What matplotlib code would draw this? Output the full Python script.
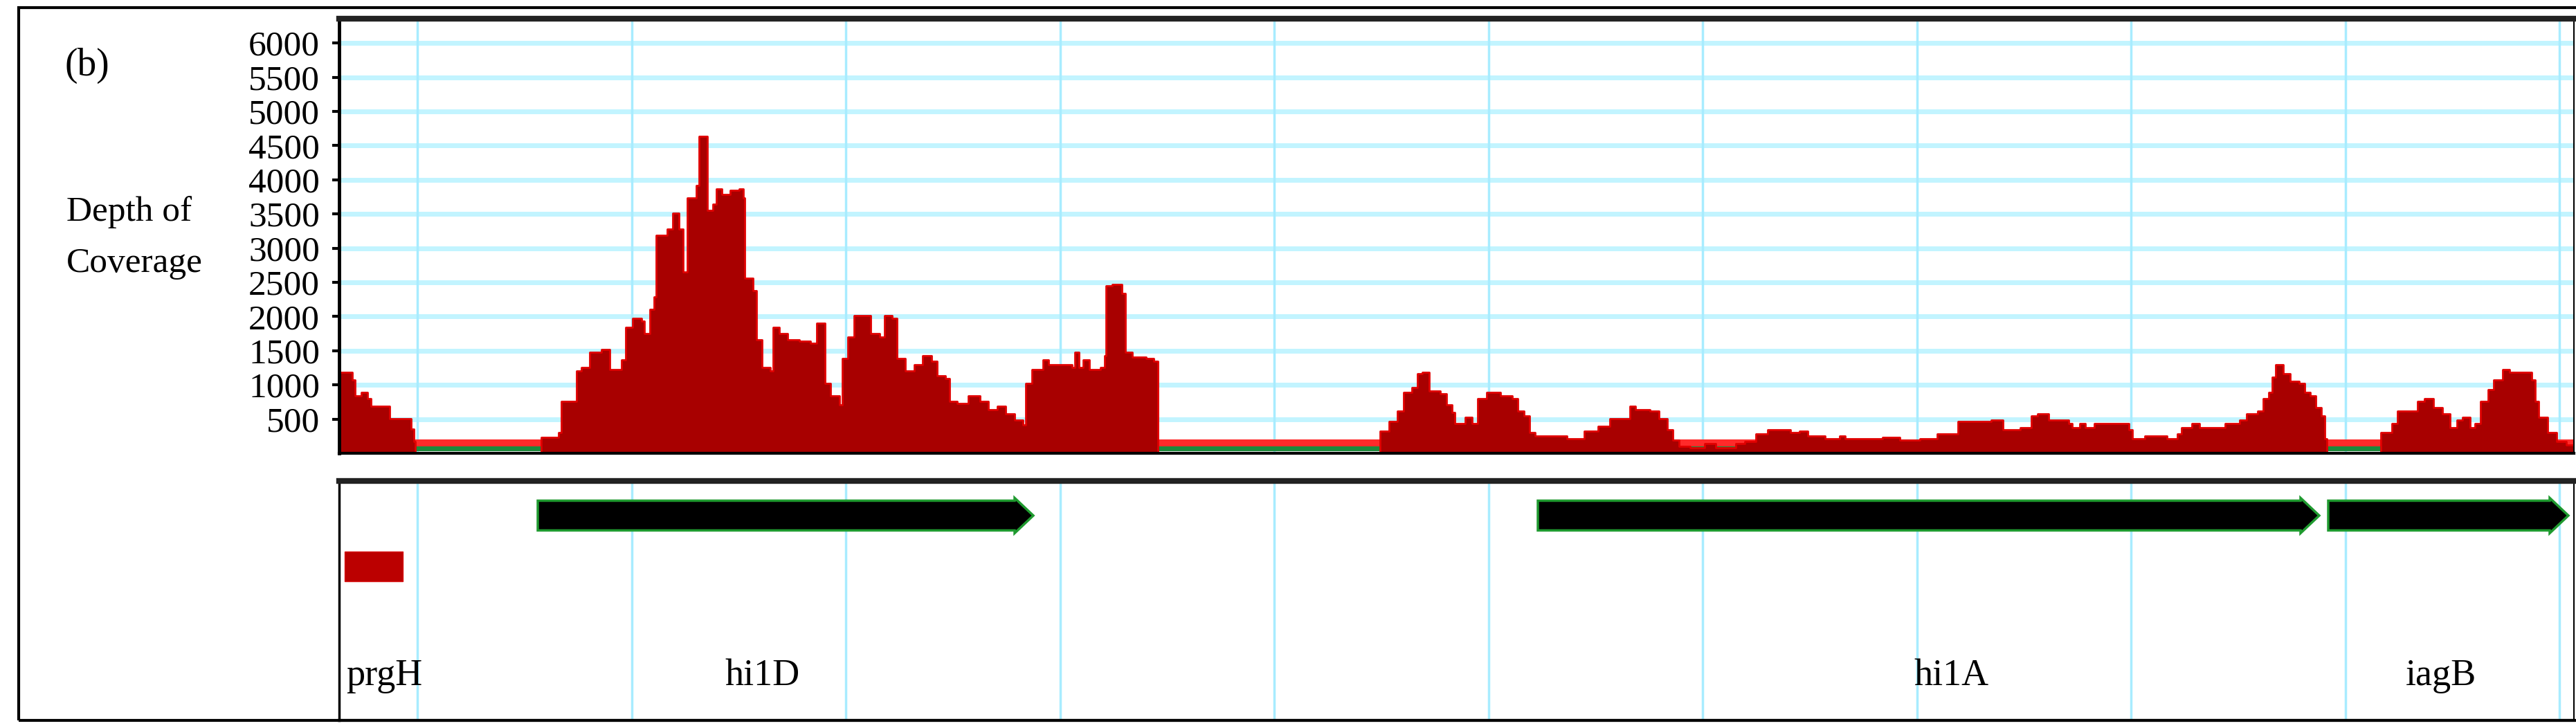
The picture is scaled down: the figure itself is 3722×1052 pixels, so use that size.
import numpy as np
import matplotlib
matplotlib.use('Agg')
import matplotlib.pyplot as plt
from matplotlib.patches import Rectangle, Polygon

plt.rcParams['font.family'] = ['Liberation Serif', 'DejaVu Serif']

# coverage track (position along the region, depth)
cov_pos = [0, 5, 19, 23, 32, 41, 46, 68, 73, 95, 104, 108, 110, 279,
           292, 317, 321, 337, 343, 350, 358, 362, 379, 387, 391, 399, 408, 414,
           424, 437, 441, 449, 455, 458, 474, 482, 491, 497, 503, 516, 520, 528,
           532, 540, 545, 553, 565, 578, 584, 586, 598, 603, 611, 623, 627, 636,
           648, 665, 681, 690, 700, 702, 710, 723, 727, 735, 744, 764, 768, 781,
           788, 799, 806, 818, 831, 843, 856, 864, 876, 882, 893, 909, 926, 938,
           951, 963, 976, 988, 992, 1001, 1017, 1025, 1046, 1059, 1063, 1069,
           1075, 1084, 1100, 1106, 1108, 1117, 1131, 1136, 1146, 1166, 1177,
           1183, 1496,
           1504, 1517, 1529, 1538, 1550, 1558, 1565, 1575, 1591, 1600, 1608,
           1612, 1620, 1627, 1637, 1645, 1658, 1678, 1695, 1703, 1712, 1720,
           1728, 1757, 1774, 1799, 1819, 1836, 1865, 1873, 1894, 1907, 1919,
           1927, 1936, 1952, 1973, 1989, 2018, 2031, 2047, 2064, 2081, 2097,
           2110, 2122, 2147, 2168, 2176, 2222, 2230, 2255, 2284, 2309, 2334,
           2339, 2387, 2404, 2429, 2445, 2454, 2470, 2499, 2504, 2515, 2523,
           2536, 2573, 2586, 2591, 2609, 2630, 2641, 2656, 2662, 2677, 2688,
           2714, 2725, 2746, 2756, 2772, 2780, 2788, 2793, 2798, 2809, 2819,
           2832, 2840, 2848, 2856, 2864, 2869, 2872, 2945,
           2950, 2966, 2974, 2992, 3003, 3013, 3026, 3039, 3050, 3060, 3068,
           3079, 3086, 3094, 3105, 3113, 3126, 3136, 3160, 3168, 3173, 3178,
           3191, 3204, 3218, 3229]
cov_depth = [1180, 1180, 1070, 845, 890, 800, 690, 690, 505, 505, 350, 170, 0, 0,
             235, 300, 755, 755, 1205, 1250, 1250, 1477, 1522, 1522, 1228, 1228, 1364, 1838,
             1974, 1929, 1748, 2109, 2290, 3193, 3284, 3510, 3284, 2651, 3736, 3916, 4639, 4639,
             3555, 3645, 3871, 3781, 3849, 3871, 3736, 2561, 2380, 1658, 1251, 1206, 1838, 1748,
             1658, 1635, 1612, 1906, 1906, 1025, 845, 709, 1387, 1703, 2019, 2019, 1748, 1703,
             2019, 1974, 1387, 1206, 1296, 1432, 1342, 1138, 1093, 755, 732, 845, 755, 641,
             687, 574, 483, 416, 1025, 1228, 1364, 1296, 1296, 1251, 1477, 1251,
             1364, 1228, 1251, 1432, 2448, 2471, 2335, 1477, 1409, 1387, 1342,
             0, 0,
             325, 461, 619, 890, 958, 1161, 1183, 912, 867, 709, 596,
             438, 438, 528, 438, 800, 890, 845, 800, 619, 551, 303,
             257, 257, 212, 325, 393, 506, 687, 641, 619, 506, 348,
             190, 99, 77, 145, 77, 145, 167, 280, 348, 348, 303,
             325, 257, 212, 257, 212, 212, 235, 190, 212, 280, 280,
             461, 483, 348, 370, 551, 574, 483, 438, 370, 438, 370,
             438, 438, 348, 212, 257, 257, 212, 280, 370, 438, 370,
             370, 438, 483, 574, 619, 800, 890, 1116, 1296, 1161, 1048,
             1025, 890, 845, 664, 551, 212, 0, 0,
             303, 438, 619, 619, 755, 800, 664, 574, 370, 483, 528,
             370, 438, 755, 935, 1071, 1229, 1183, 1183, 1071, 755, 528,
             303, 167, 122, 100]

depth_ticks = [500, 1000, 1500, 2000, 2500, 3000, 3500, 4000, 4500, 5000, 5500, 6000]
grid_pos = [113, 422.5, 732, 1041.5, 1351, 1660.5, 1970, 2279.5, 2589, 2898.5, 3208]

# annotated features
gene_names = ['prgH', 'hi1D', 'hi1A', 'iagB']
gene_start = [8, 287, 1732, 2874]
gene_end = [92, 1003, 2861, 3221]
gene_arrow = [False, True, True, True]
label_pos = [10, 611, 2330, 3037]

W, H = 3722, 1052
fig = plt.figure(figsize=(W / 100, H / 100), dpi=100)

# outer frame
fig.patches.append(Rectangle((27 / W, 11 / H), (W - 27) / W + 0.01, 1030 / H,
                             transform=fig.transFigure, fill=False,
                             edgecolor='black', linewidth=3, zorder=0))

ax = fig.add_axes([490 / W, (H - 655) / H, 3229 / W, 628 / H])
ax2 = fig.add_axes([490 / W, 11 / H, 3229 / W, 346 / H])

# top track: coverage
ax.set_xlim(0, 3229)
ax.set_ylim(0, 6356)
for y in depth_ticks:
    ax.axhline(y, color='#c2f4ff', lw=5, zorder=0)
for x in grid_pos:
    ax.axvline(x, color='#a8ecff', lw=2.5, zorder=0)
ax.axhspan(30, 100, color='#1d8a3c', zorder=1, lw=0)
ax.axhspan(100, 200, color='#ff2a2a', zorder=1, lw=0)
ax.fill_between(cov_pos, cov_depth, 0, step='post', facecolor='#a80000',
                edgecolor='#e00000', linewidth=2, zorder=2)

ax.set_yticks(depth_ticks)
ax.set_yticklabels([str(t) for t in depth_ticks])
ax.set_xticks([])
ax.tick_params(axis='y', labelsize=37, length=7, width=3, pad=13, color='black')
ax.spines['top'].set_linewidth(6)
ax.spines['top'].set_color('#222222')
ax.spines['left'].set_linewidth(3.5)
ax.spines['bottom'].set_linewidth(3)
ax.spines['right'].set_linewidth(1.5)

# bottom track: genes
ax2.set_xlim(0, 3229)
ax2.set_ylim(0, 346)
for x in grid_pos:
    ax2.axvline(x, color='#a8ecff', lw=2.5, zorder=0)
ax2.set_xticks([])
ax2.set_yticks([])
ax2.spines['top'].set_linewidth(6)
ax2.spines['top'].set_color('#222222')
ax2.spines['left'].set_linewidth(2.5)
ax2.spines['bottom'].set_linewidth(3)
ax2.spines['right'].set_linewidth(1.5)

yc, half, head_half, head_len = 296, 21.5, 25.5, 27
for name, s, e, arrow, lx in zip(gene_names, gene_start, gene_end, gene_arrow, label_pos):
    if arrow:
        pts = [(s, yc - half), (e - head_len, yc - half), (e - head_len, yc - head_half),
               (e, yc), (e - head_len, yc + head_half), (e - head_len, yc + half),
               (s, yc + half)]
        ax2.add_patch(Polygon(pts, closed=True, facecolor='black',
                              edgecolor='#1f9a2f', linewidth=2.5, zorder=3))
    else:
        ax2.add_patch(Rectangle((s, 201), e - s, 43, facecolor='#bb0000',
                                edgecolor='#d81010', linewidth=1, zorder=3))
    ax2.text(lx, 51, name, fontsize=39, ha='left' if not arrow else 'center',
             va='baseline', zorder=4)

fig.text(94 / W, 1 - 95 / H, '(b)', fontsize=40, va='center', ha='left')
fig.text(96 / W, 1 - 319 / H, 'Depth of', fontsize=37, va='baseline', ha='left')
fig.text(96 / W, 1 - 393 / H, 'Coverage', fontsize=37, va='baseline', ha='left')

fig.savefig('out.png', dpi=100)
